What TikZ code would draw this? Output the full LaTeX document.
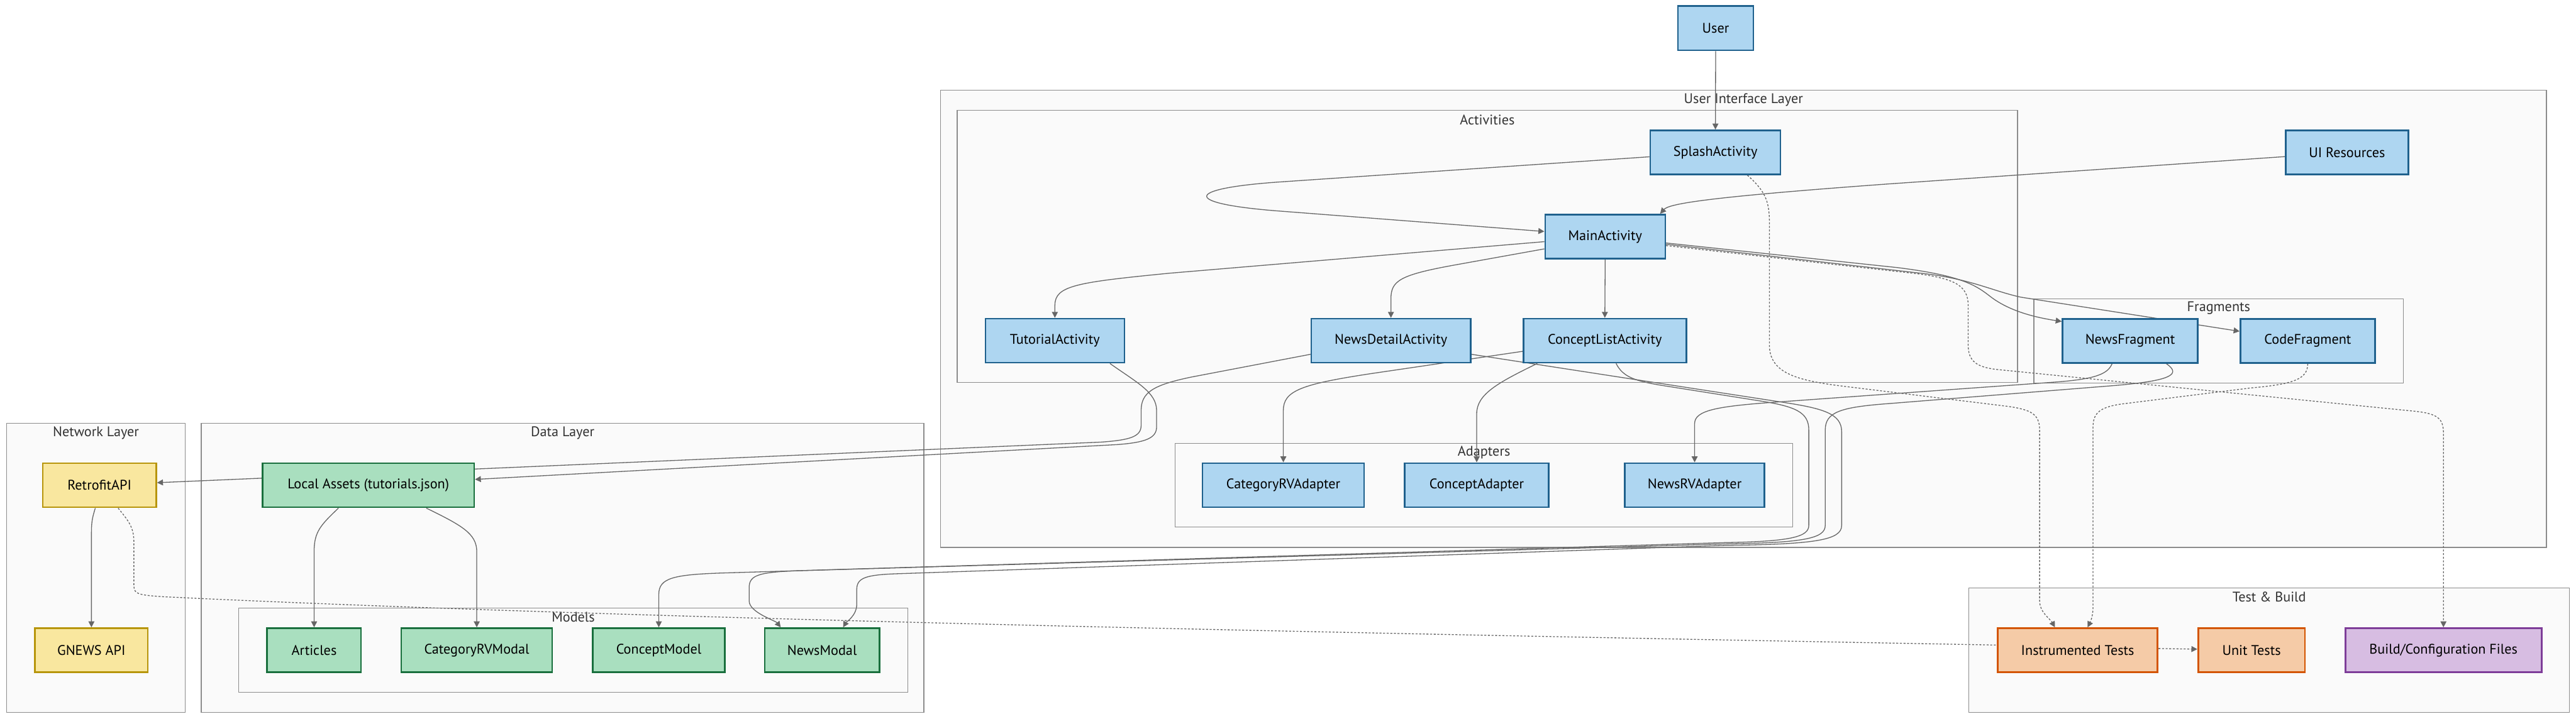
\documentclass[tikz,border=0pt]{standalone}
\usepackage{fontspec}
\setmainfont{PT Sans}
\usetikzlibrary{arrows.meta}
\definecolor{bluefill}{HTML}{AED6F1}
\definecolor{bluestroke}{HTML}{1F618D}
\definecolor{greenfill}{HTML}{A9DFBF}
\definecolor{greenstroke}{HTML}{196F3D}
\definecolor{yellowfill}{HTML}{F9E79F}
\definecolor{yellowstroke}{HTML}{B7950B}
\definecolor{orangefill}{HTML}{F5CBA7}
\definecolor{orangestroke}{HTML}{D35400}
\definecolor{purplefill}{HTML}{D7BDE2}
\definecolor{purplestroke}{HTML}{7D3C98}
\definecolor{clusterfill}{HTML}{FAFAFA}
\definecolor{clusterstroke}{HTML}{8C8C8C}
\definecolor{edgecol}{HTML}{666666}
\definecolor{titlecol}{HTML}{333333}
\pgfdeclarelayer{bg}
\pgfdeclarelayer{edges}
\pgfsetlayers{bg,edges,main}
\tikzset{
  txt/.style={font=\fontsize{8.5pt}{9pt}\selectfont},
  box/.style={txt, draw, line width=1pt, minimum height=26.8pt, inner sep=0pt, text=black},
  bluebox/.style={box, fill=bluefill, draw=bluestroke},
  greenbox/.style={box, fill=greenfill, draw=greenstroke},
  yellowbox/.style={box, fill=yellowfill, draw=yellowstroke},
  orangebox/.style={box, fill=orangefill, draw=orangestroke},
  purplebox/.style={box, fill=purplefill, draw=purplestroke},
  cluster/.style={draw=clusterstroke, fill=clusterfill, line width=0.5pt, inner sep=0pt},
  ctitle/.style={txt, text=titlecol, inner sep=0pt},
  link/.style={draw=edgecol, line width=0.5pt},
  edge/.style={link, -{Triangle[length=3.6pt,width=3.6pt]}},
  dotline/.style={dash pattern=on 1.2pt off 1pt}
}
\begin{document}
\begin{tikzpicture}[x=1pt,y=-1pt]
\useasboundingbox (0,0) rectangle (1568,437.9);
\begin{pgfonlayer}{bg}
\fill[white] (0,0) rectangle (1568,437.9);
\node[cluster, minimum width=108.8pt, minimum height=176.1pt] (network) at (58.4,345.75) {};
\node[cluster, minimum width=439.9pt, minimum height=176.1pt] (data) at (342.45,345.75) {};
\node[cluster, minimum width=407.3pt, minimum height=51.3pt] (models) at (348.95,395.95) {};
\node[cluster, minimum width=977.5pt, minimum height=278.5pt] (ui) at (1061.25,194.15) {};
\node[cluster, minimum width=645.4pt, minimum height=165.7pt] (activities) at (905.3,150.15) {};
\node[cluster, minimum width=225pt, minimum height=51.2pt] (fragments) at (1350.5,207.6) {};
\node[cluster, minimum width=376pt, minimum height=51pt] (adapters) at (903.3,295.5) {};
\node[cluster, minimum width=365.5pt, minimum height=76pt] (testbuild) at (1381.25,396) {};
\node[ctitle] (networkt) at ([yshift=-6.2pt]network.north) {Network Layer};
\node[ctitle] (datat) at ([yshift=-6.2pt]data.north) {Data Layer};
\node[ctitle] (modelst) at ([yshift=-5.8pt]models.north) {Models};
\node[ctitle] (uit) at ([yshift=-6.3pt]ui.north) {User Interface Layer};
\node[ctitle] (activitiest) at ([yshift=-6pt]activities.north) {Activities};
\node[ctitle] (fragmentst) at ([yshift=-6pt]fragments.north) {Fragments};
\node[ctitle] (adapterst) at ([yshift=-6pt]adapters.north) {Adapters};
\node[ctitle] (testbuildt) at ([yshift=-5.8pt]testbuild.north) {Test \& Build};
\end{pgfonlayer}

\node[bluebox, minimum width=46pt, minimum height=27pt] (user) at (1044.3,17.2) {User};
\node[bluebox, minimum width=79.3pt] (splash) at (1044.15,92.8) {SplashActivity};
\node[bluebox, minimum width=74.8pt] (uires) at (1428.6,92.9) {UI Resources};
\node[bluebox, minimum width=73.1pt] (main) at (977.05,144.1) {MainActivity};
\node[bluebox, minimum width=84.6pt] (tutorial) at (642.1,207.5) {TutorialActivity};
\node[bluebox, minimum width=96.9pt] (newsdetail) at (846.65,207.5) {NewsDetailActivity};
\node[bluebox, minimum width=99.1pt] (conceptlist) at (976.85,207.5) {ConceptListActivity};
\node[bluebox, minimum width=82.4pt] (newsfrag) at (1296.6,207.6) {NewsFragment};
\node[bluebox, minimum width=82pt] (codefrag) at (1404.7,207.6) {CodeFragment};
\node[bluebox, minimum width=98.3pt] (catadapter) at (781.15,295.5) {CategoryRVAdapter};
\node[bluebox, minimum width=87.7pt] (conceptadapter) at (898.85,295.5) {ConceptAdapter};
\node[bluebox, minimum width=85pt] (newsrvadapter) at (1031.5,295.5) {NewsRVAdapter};
\node[yellowbox, minimum width=69.1pt] (retrofit) at (60.55,295.6) {RetrofitAPI};
\node[greenbox, minimum width=128.8pt] (localassets) at (224.2,295.6) {Local Assets (tutorials.json)};
\node[yellowbox, minimum width=68.7pt] (gnews) at (55.65,396) {GNEWS API};
\node[greenbox, minimum width=57.2pt] (articles) at (191.2,396) {Articles};
\node[greenbox, minimum width=91.8pt] (catmodal) at (290.2,396) {CategoryRVModal};
\node[greenbox, minimum width=80.6pt] (conceptmodel) at (401,396) {ConceptModel};
\node[greenbox, minimum width=69.8pt] (newsmodal) at (500.4,396) {NewsModal};
\node[orangebox, minimum width=97.3pt] (instr) at (1264.65,396) {Instrumented Tests};
\node[orangebox, minimum width=65pt] (unit) at (1370.5,396) {Unit Tests};
\node[purplebox, minimum width=119.4pt] (build) at (1487.3,396) {Build/Configuration Files};

\begin{pgfonlayer}{edges}
\draw[edge] (user.south) -- (splash.north);
\draw[edge] (splash.west |- 0,95.5) -- (778,110.9) .. controls (720,115) and (720,124) .. (778,128.5) -- (main.west |- 0,141);
\draw[edge] (uires.west |- 0,95.4) -- (1150,112) .. controls (1040,120) and (1016,124) .. (1010.5,0 |- main.north);
\draw[edge] (main.west |- 0,147.2) -- (712,166.4) .. controls (655,172) and (642.1,174) .. (642.1,186) -- (tutorial.north);
\draw[edge] (main.west |- 0,151.6) -- (885,161.5) .. controls (852,167.5) and (846.65,171) .. (846.65,182) -- (newsdetail.north);
\draw[edge] (main.south) -- (conceptlist.north);
\draw[edge] (main.east |- 0,148) -- (1155,163) .. controls (1195,168) and (1203,174) .. (1212,181) .. controls (1224,190) and (1240,193.5) .. (newsfrag.west |- 0,195.8);
\draw[edge] (main.east |- 0,148.8) -- (1170,166.5) .. controls (1200,170) and (1212,177) .. (1230,181) -- (codefrag.west |- 0,201.8);
\draw[edge,dotline] (main.east |- 0,149.6) -- (1165,166.5) .. controls (1190,169.5) and (1198,174) .. (1198,186) -- (1198,210) .. controls (1198,220) and (1203,223.5) .. (1215,225) -- (1470,250.5) .. controls (1484,252) and (1487.3,255) .. (1487.3,264) -- (build.north);
\draw[edge,dotline] (1063.6,0 |- splash.south) .. controls (1074,116) and (1077,122) .. (1077,135) -- (1077,210) .. controls (1077,227) and (1093,231.5) .. (1120,235) -- (1222,247.5) .. controls (1236,249.5) and (1241.5,252) .. (1241.5,262) -- (1241.5,366) .. controls (1241.5,373) and (1248,377) .. (1250.8,0 |- instr.north);
\draw[edge,dotline] (codefrag.south) .. controls (1404.7,231) and (1396,234) .. (1370,236.3) -- (1292,246) .. controls (1279,247.8) and (1274,251) .. (1274,260) -- (1274,370) .. controls (1274,376) and (1272,379.5) .. (1270.7,0 |- instr.north);
\draw[edge,dotline] ([yshift=1pt]instr.east) -- ([yshift=0.6pt]unit.west);
\draw[link,dotline] (71.9,0 |- retrofit.south) .. controls (78,317) and (81.5,321) .. (81.5,330) -- (81.5,357) .. controls (81.5,362) and (85,362.5) .. (100,363.5) .. controls (400,378) and (900,387) .. ([yshift=3.1pt]instr.west);
\draw[edge] (58,0 |- retrofit.south) .. controls (56,316) and (55.65,318) .. (55.65,326) -- (gnews.north);
\draw[edge] (206,0 |- localassets.south) .. controls (195,320) and (191.2,324) .. (191.2,336) -- (articles.north);
\draw[edge] (259.5,0 |- localassets.south) .. controls (281,320) and (290.2,325) .. (290.2,336) -- (catmodal.north);
\draw[edge] (newsdetail.west |- 0,215.8) -- (725,229.7) .. controls (702,234.5) and (694.6,239) .. (694.6,250) -- (694.6,259) .. controls (694.6,266) and (688,268) .. (670,269.3) -- ([yshift=1.6pt]retrofit.east);
\draw[edge] (675.6,0 |- tutorial.south) .. controls (692,233) and (704,239) .. (704,250) -- (704,260) .. controls (704,267) and (697,269.5) .. (680,270.8) -- ([yshift=3.6pt]localassets.east);
\draw[edge] (conceptlist.west |- 0,214) -- (835,227.5) .. controls (792,234) and (781.15,238) .. (781.15,250) -- (catadapter.north);
\draw[edge] (935.7,0 |- conceptlist.south) .. controls (912,233) and (898.85,240) .. (898.85,252) -- (conceptadapter.north);
\draw[edge] (983.7,0 |- conceptlist.south) .. controls (988,230) and (996,232) .. (1010,234.5) -- (1070,244) .. controls (1093,247.5) and (1101,251) .. (1101,262) -- (1101,320) .. controls (1101,327) and (1090,329.8) .. (1050,330.5) -- (440,349) .. controls (410,350) and (401,352) .. (401,362) -- (conceptmodel.north);
\draw[edge] (newsdetail.east |- 0,215.8) -- (1085,245) .. controls (1110,248.8) and (1121,252) .. (1121,263) -- (1121,320) .. controls (1121,329) and (1105,331.5) .. (1050,332.2) -- (545,349.5) .. controls (527,350.2) and (521.5,352) .. (521.5,359) -- (521.5,368) .. controls (521.5,375) and (515,379) .. (513.2,0 |- newsmodal.north);
\draw[edge] (1318.6,0 |- newsfrag.south) .. controls (1328,228) and (1322,232) .. (1285,235) -- (1150,245.8) .. controls (1120,248) and (1111,251) .. (1111,262) -- (1111,320) .. controls (1111,328) and (1098,330.6) .. (1050,331.3) -- (490,347.5) .. controls (462,348.3) and (456,350) .. (456,358) -- (456,366) .. controls (456,373) and (472,378) .. (475.2,0 |- newsmodal.north);
\draw[edge] (1285.6,0 |- newsfrag.south) .. controls (1283,228) and (1275,231) .. (1250,232.8) -- (1080,245) .. controls (1045,247.5) and (1031.5,250) .. (1031.5,258) -- (newsrvadapter.north);
\end{pgfonlayer}
\end{tikzpicture}
\end{document}
